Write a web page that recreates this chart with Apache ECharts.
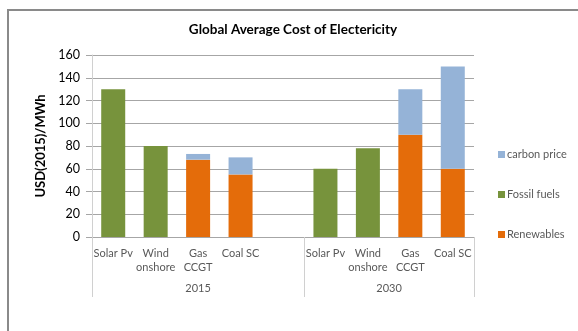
<!DOCTYPE html>
<html>
<head>
<meta charset="utf-8">
<script src="https://cdn.jsdelivr.net/npm/echarts@6/dist/echarts.min.js"></script>
<style>
  html, body { margin: 0; padding: 0; background: #fff; overflow: hidden; }
  #frame { position: absolute; left: 7px; top: 9px; width: 700px; height: 400px;
           border-left: 2px solid #8a8a8a; border-top: 2px solid #8a8a8a; }
  #chart { position: absolute; left: 0; top: 0; width: 578px; height: 331px; }
</style>
</head>
<body>
<div id="frame"></div>
<div id="chart"></div>
<script>
// Technologies per year; the blank slot spaces the two year groups apart
const categories = ['Solar Pv', 'Wind\nonshore', 'Gas\nCCGT', 'Coal SC', '',
                    'Solar Pv', 'Wind\nonshore', 'Gas\nCCGT', 'Coal SC'];
// Year groups and how many slots each one spans on the axis
const groups = ['2015', '2030'];
const groupSpans = [5, 4];

// Levelised cost, USD(2015)/MWh
const renewables  = [null, null, 68, 55, null, null, null, 90, 60];
const fossilFuels = [130, 80, null, null, null, 60, 78, null, null];
const carbonPrice = [null, null, 5, 15, null, null, null, 40, 90];

const yTicks = { min: 0, max: 160, interval: 20 };

// Group boundaries and centres in slot units
const bounds = [0];
groupSpans.forEach(s => bounds.push(bounds[bounds.length - 1] + s));
const centres = groupSpans.map((s, i) => bounds[i] + s / 2);

const font = 'Lato, "Liberation Sans", sans-serif';
const textColor = '#595959';

const chart = echarts.init(document.getElementById('chart'), null, { renderer: 'canvas' });
chart.setOption({
  animation: false,
  backgroundColor: 'transparent',
  title: {
    text: 'Global Average Cost of Electericity',
    left: 288, top: 18, textAlign: 'center',
    textStyle: { fontFamily: font, fontWeight: 'bold', fontSize: 13.5, color: '#000' }
  },
  legend: {
    orient: 'vertical',
    left: 493, top: 144,
    itemWidth: 7, itemHeight: 7, itemGap: 29,
    icon: 'rect',
    data: ['carbon price', 'Fossil fuels', 'Renewables'],
    textStyle: { fontFamily: font, fontSize: 11, color: textColor, padding: [0, 0, 0, -3] }
  },
  grid: { left: 92, right: 104, top: 55, bottom: 94, containLabel: false },
  xAxis: [
    {
      type: 'category',
      data: categories,
      axisLine: { show: true, lineStyle: { color: '#a6a6a6', width: 1 } },
      axisTick: { show: false },
      axisLabel: {
        interval: 0, margin: 9, lineHeight: 14,
        fontFamily: font, fontSize: 11, color: textColor
      }
    },
    {
      type: 'value',
      position: 'bottom',
      min: 0, max: bounds[bounds.length - 1],
      splitLine: { show: false },
      axisLine: { show: false },
      axisTick: {
        show: true, customValues: bounds, length: 60,
        lineStyle: { color: '#d0d0d0', width: 1 }
      },
      axisLabel: {
        customValues: centres, margin: 46,
        fontFamily: font, fontSize: 11, color: textColor,
        formatter: v => groups[centres.indexOf(v)]
      }
    }
  ],
  yAxis: {
    type: 'value',
    min: yTicks.min, max: yTicks.max, interval: yTicks.interval,
    name: 'USD(2015)/MWh',
    nameLocation: 'middle', nameGap: 44,
    nameTextStyle: { fontFamily: font, fontWeight: 'bold', fontSize: 13, color: '#000' },
    axisLine: { show: true, lineStyle: { color: '#d0d0d0' } },
    axisTick: { show: true, length: 6, lineStyle: { color: '#a6a6a6' } },
    axisLabel: { margin: 12, fontFamily: font, fontSize: 12.5, color: '#000' },
    splitLine: { lineStyle: { color: '#a6a6a6', width: 1 } }
  },
  series: [
    { name: 'Renewables', type: 'bar', stack: 'cost', barWidth: 24,
      itemStyle: { color: '#E46C0A' }, data: renewables },
    { name: 'Fossil fuels', type: 'bar', stack: 'cost', barWidth: 24,
      itemStyle: { color: '#77933C' }, data: fossilFuels },
    { name: 'carbon price', type: 'bar', stack: 'cost', barWidth: 24,
      itemStyle: { color: '#95B3D7' }, data: carbonPrice }
  ]
});
</script>
</body>
</html>
